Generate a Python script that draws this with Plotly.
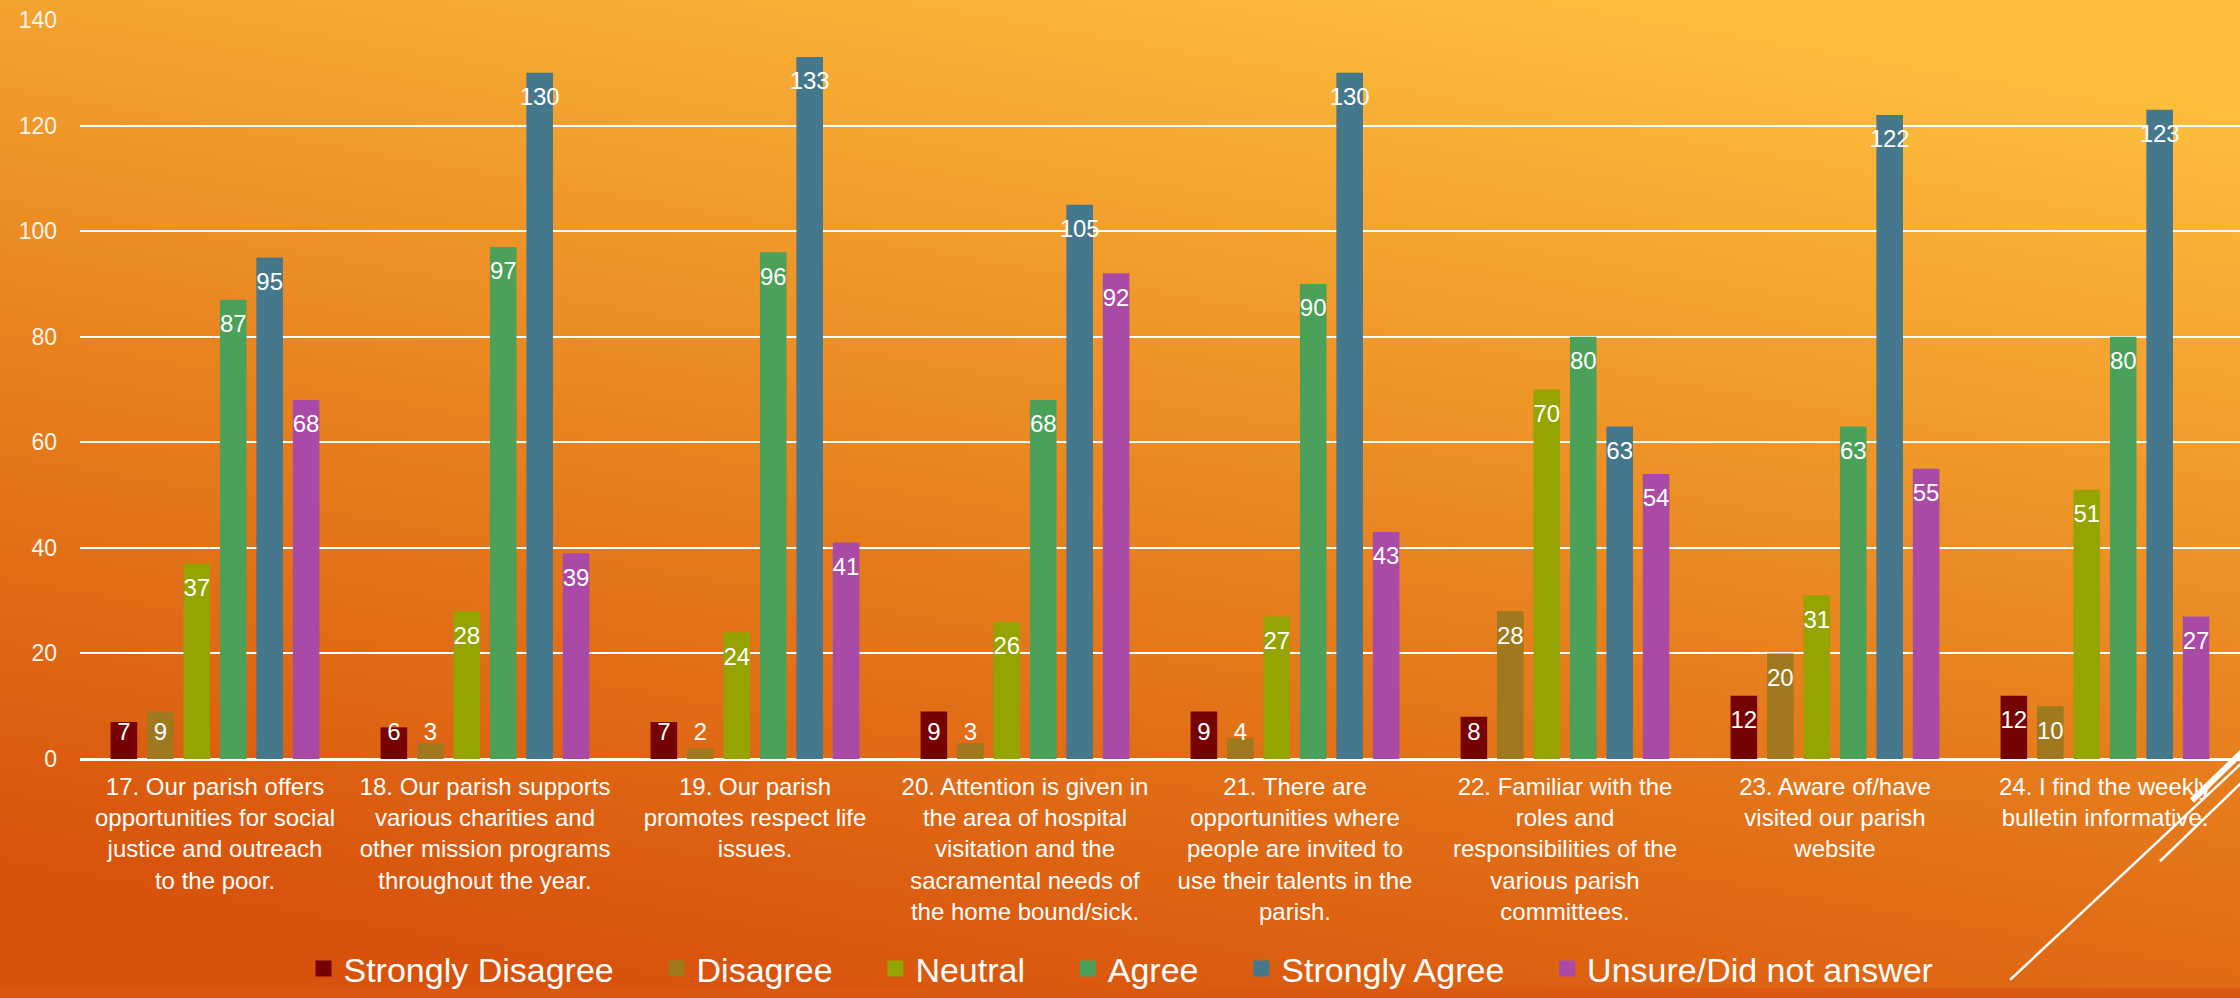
import base64
import plotly.graph_objects as go

categories = [
    "17. Our parish offers<br>opportunities for social<br>justice and outreach<br>to the poor.",
    "18. Our parish supports<br>various charities and<br>other mission programs<br>throughout the year.",
    "19. Our parish<br>promotes respect life<br>issues.",
    "20. Attention is given in<br>the area of hospital<br>visitation and the<br>sacramental needs of<br>the home bound/sick.",
    "21. There are<br>opportunities where<br>people are invited to<br>use their talents in the<br>parish.",
    "22. Familiar with the<br>roles and<br>responsibilities of the<br>various parish<br>committees.",
    "23. Aware of/have<br>visited our parish<br>website",
    "24. I find the weekly<br>bulletin informative.",
]

strongly_disagree = [7, 6, 7, 9, 9, 8, 12, 12]
disagree = [9, 3, 2, 3, 4, 28, 20, 10]
neutral = [37, 28, 24, 26, 27, 70, 31, 51]
agree = [87, 97, 96, 68, 90, 80, 63, 80]
strongly_agree = [95, 130, 133, 105, 130, 63, 122, 123]
unsure = [68, 39, 41, 92, 43, 54, 55, 27]

series_names = ["Strongly Disagree", "Disagree", "Neutral", "Agree", "Strongly Agree", "Unsure/Did not answer"]
series_values = [strongly_disagree, disagree, neutral, agree, strongly_agree, unsure]
series_colors = ["#760303", "#A0781E", "#95A303", "#4BA15A", "#46788D", "#A94AA7"]

y_ticks = [0, 20, 40, 60, 80, 100, 120, 140]

W, H = 2240, 998
ML, MR, MT, MB = 80, 0, 20, 212
PW, PH = W - ML - MR, H - MT - MB

svg = f'''<svg xmlns="http://www.w3.org/2000/svg" width="{W}" height="{H}" viewBox="0 0 {W} {H}" preserveAspectRatio="none">
<defs><linearGradient id="g" x1="0.3" y1="1" x2="0.7" y2="0">
<stop offset="0" stop-color="#D8520C"/>
<stop offset="0.45" stop-color="#E7801E"/>
<stop offset="1" stop-color="#FDBE3C"/>
</linearGradient></defs>
<rect x="0" y="0" width="{W}" height="{H}" fill="url(#g)"/></svg>'''
bg_src = "data:image/svg+xml;base64," + base64.b64encode(svg.encode()).decode()

fig = go.Figure()

for name, vals, col in zip(series_names, series_values, series_colors):
    fig.add_trace(go.Bar(
        x=categories, y=vals, name=name, marker=dict(color=col, line=dict(width=0)),
        showlegend=False, offsetgroup=name,
    ))

for name, vals, col in zip(series_names, series_values, series_colors):
    fig.add_trace(go.Scatter(
        x=categories, y=[max(v - 5, 4.8) for v in vals], mode="text",
        text=[str(v) for v in vals], textposition="middle center",
        textfont=dict(family="Liberation Sans", size=24, color="#FFFFFF"),
        showlegend=False, offsetgroup=name, hoverinfo="skip",
    ))

# legend entries (padding after each label except the last to mimic item spacing)
for i, (name, col) in enumerate(zip(series_names, series_colors)):
    pad = "&nbsp;" * 4 if i < len(series_names) - 1 else ""
    fig.add_trace(go.Scatter(
        x=[None], y=[None], mode="markers", name=name + pad,
        marker=dict(symbol="square", size=18, color=col),
        xaxis="x2", yaxis="y2",
    ))

px2x = lambda px: (px - ML) / PW
py2y = lambda py: (H - MB - py) / PH

shapes = [
    dict(type="line", xref="paper", yref="paper", x0=px2x(2192), y0=py2y(829), x1=px2x(2245), y1=py2y(776),
         line=dict(color="white", width=6), layer="above"),
    dict(type="line", xref="paper", yref="paper", x0=px2x(2010), y0=py2y(1015), x1=px2x(2245), y1=py2y(787),
         line=dict(color="white", width=2.5), layer="above"),
    dict(type="line", xref="paper", yref="paper", x0=px2x(2160), y0=py2y(892), x1=px2x(2245), y1=py2y(807),
         line=dict(color="white", width=2.5), layer="above"),
]

fig.update_layout(
    width=W, height=H, autosize=False,
    margin=dict(l=ML, r=MR, t=MT, b=MB, pad=0),
    paper_bgcolor="#DA5810", plot_bgcolor="rgba(0,0,0,0)",
    barmode="group", bargap=0.19, bargroupgap=0.27,
    scattermode="group", scattergap=0.19,
    images=[dict(source=bg_src, xref="paper", yref="paper", x=-(ML + 4) / PW, y=1 + (MT + 4) / PH,
                 sizex=(W + 8) / PW, sizey=(H + 30) / PH, sizing="stretch", xanchor="left", yanchor="top",
                 layer="below")],
    shapes=shapes,
    xaxis=dict(type="category", showgrid=False, showline=False, zeroline=False, ticks="",
               ticklabelstandoff=11,
               tickfont=dict(family="Liberation Sans", size=24, color="#FFFFFF"),
               tickangle=0, automargin=False, fixedrange=True),
    yaxis=dict(range=[0, 140], tickvals=y_ticks, showgrid=True, gridcolor="#FFFFFF", gridwidth=2.2,
               zeroline=True, zerolinecolor="#FFFFFF", zerolinewidth=3, showline=False, ticks="",
               ticklabelstandoff=22,
               tickfont=dict(family="Liberation Sans", size=23, color="#FFF6EA"), automargin=False),
    xaxis2=dict(overlaying="x", visible=False, range=[0, 1]),
    yaxis2=dict(overlaying="y", visible=False, range=[0, 1]),
    legend=dict(orientation="h", x=px2x(1121), xanchor="center", y=-0.285, yanchor="middle",
                font=dict(family="Liberation Sans", size=34, color="#FFFFFF"),
                bgcolor="rgba(0,0,0,0)", itemwidth=30, traceorder="normal"),
    showlegend=True,
)

fig.write_html(
    "out.html",
    config={"displayModeBar": False, "responsive": False},
    post_script=(
        "var s=document.createElement('style');"
        "s.textContent='html,body{margin:0;padding:0;overflow:hidden;width:2240px;height:998px;background:#DA5810;}"
        ".plotly-graph-div{position:fixed !important;top:0;left:0;}';"
        "document.head.appendChild(s);"
    ),
)
